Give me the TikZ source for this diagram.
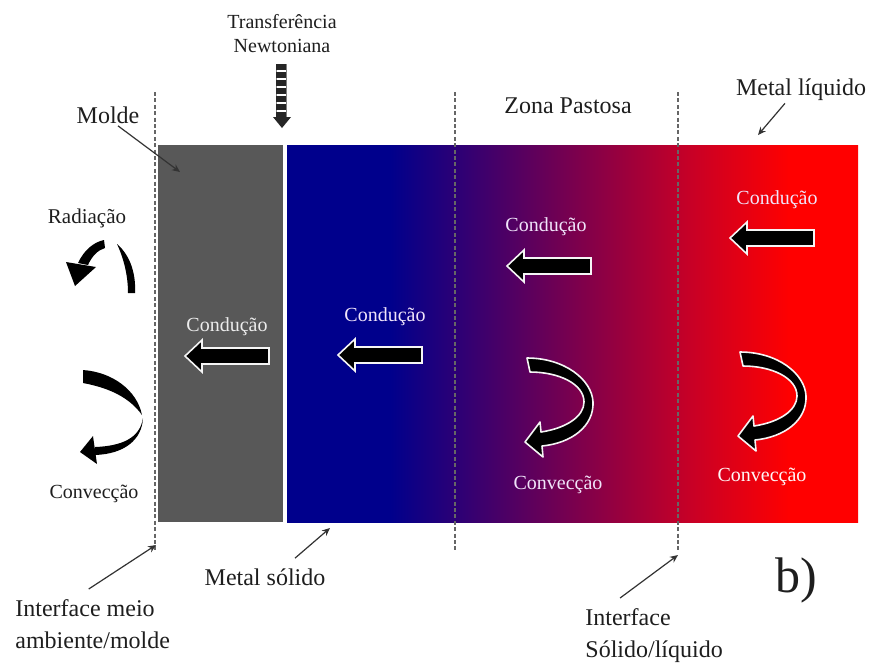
\documentclass[tikz,border=0pt]{standalone}
\usepackage{fontspec}
\setmainfont{Liberation Serif}
\usepackage{tikz}
\usetikzlibrary{calc,positioning,arrows.meta}

\definecolor{moldgray}{RGB}{88,88,88}
\definecolor{solidblue}{RGB}{0,0,140}
\definecolor{mushred}{RGB}{200,0,38}
\definecolor{liqred}{RGB}{255,0,0}
\definecolor{labeltxt}{RGB}{30,30,30}
\definecolor{intxt}{RGB}{240,228,250}
\pgfdeclarehorizontalshading{metalgrad}{100bp}{color(0bp)=(solidblue); color(34bp)=(solidblue);
  color(60.4bp)=(mushred); color(69.1bp)=(liqred); color(100bp)=(liqred)}

\begin{document}
\begin{tikzpicture}[x=0.5pt,y=-0.5pt,
  lbl/.style={font=\fontsize{12}{16}\selectfont, text=labeltxt, inner sep=1pt},
  sml/.style={font=\fontsize{10}{12}\selectfont, text=labeltxt, inner sep=1pt},
  inlbl/.style={sml, text=intxt},
  pointer/.style={-{Stealth[length=4pt,width=3.5pt]}, line width=0.6pt, black!80},
  zone/.style={line width=1.2pt, dash pattern=on 2pt off 1.2pt, black!60},
  cond/.pic={\draw[white!92!gray, line width=0.8pt, fill=black, line join=miter]
    (0,0) -- (17,-16) -- (17,-8) -- (84,-8) -- (84,8) -- (17,8) -- (17,16) -- cycle;},
  conv/.pic={\draw[white!92!gray, line width=0.8pt, fill=black, line join=round]
    (0,0) .. controls (38,0) and (65,22) .. (66,44)
    .. controls (67,68) and (45,85) .. (15,88)
    -- (16,99) -- (-2,84) -- (13,64) -- (14,74)
    .. controls (40,70) and (57,58) .. (57,44)
    .. controls (57,26) and (32,14) .. (3,14) -- cycle;}
]
\fill[white] (0,0) rectangle (870,666);

% regions
\fill[moldgray] (158,145) rectangle (283,522);
\shade[shading=metalgrad] (287,145) rectangle (858,522);

% interfaces
\draw[zone] (155,92) -- (155,550);
\draw[zone] (455,92) -- (455,550);
\draw[zone] (678,92) -- (678,550);

% conduction
\pic at (185,356) {cond};
\pic at (338,355) {cond};
\pic at (507,266) {cond};
\pic at (730,238) {cond};
\node[inlbl, text=white!85!gray] (cd1) at (227,327) {Condução};
\node[inlbl] (cd2) at (385,317) {Condução};
\node[inlbl] (cd3) at (546,227) {Condução};
\node[inlbl] (cd4) at (777,200) {Condução};

% convection
\pic at (527,358) {conv};
\pic at (740,352) {conv};
\node[inlbl] (cv1) at (558,485) {Convecção};
\node[inlbl, text=white!85!pink] (cv2) at (762,477) {Convecção};

% outside, radiation and convection
\fill[black] (117,244) .. controls (131,256) and (136,275) .. (135,293)
  -- (128,293) .. controls (128,276) and (124,259) .. (117,244) -- cycle;
\fill[black] (104,240) .. controls (94,242) and (84,250) .. (78,263)
  -- (88,265) .. controls (92,256) and (98,250) .. (105,248) -- cycle;
\fill[black] (66,262) -- (96,267) -- (75,286) -- cycle;
\fill[black] (83,370) .. controls (112,372) and (137,390) .. (142,415)
  .. controls (130,398) and (110,388) .. (83,383) -- cycle;
\fill[black] (143,418) .. controls (140,438) and (122,446) .. (95,447)
  -- (95,455) .. controls (124,454) and (142,440) .. (143,418) -- cycle;
\fill[black] (93,436) -- (80,452) -- (97,464) -- cycle;
\node[sml, font=\fontsize{10.5}{12}\selectfont] (rad) at (87,218) {Radiação};
\node[sml] (cvout) at (94,494) {Convecção};

% newtonian transfer
\node[sml, align=center, font=\fontsize{10}{12}\selectfont] (newt) at (282,34) {Transferência\\Newtoniana};
\draw[gray, line width=0.4pt] (276,64) rectangle (286,118);
\draw[black!85, line width=4.6pt, dash pattern=on 3pt off 1pt] (281,64) -- (281,118);
\fill[black!85] (273,117) -- (291,117) -- (282,128) -- cycle;

% labels
\node[lbl] (molde) at (108,115) {Molde};
\node[lbl] (zona) at (568,106) {Zona Pastosa};
\node[lbl] (mliq) at (801,90) {Metal líquido};
\node[lbl] (msol) at (265,577) {Metal sólido};
\node[lbl, align=left, anchor=north west] (ifm) at (13,597) {Interface meio\\ambiente/molde};
\node[lbl, align=left, anchor=north west] (isl) at (583,606) {Interface\\Sólido/líquido};
\node[lbl, font=\fontsize{25}{28}\selectfont] (fig) at (796,580) {b)};

\coordinate (moldeTip) at (180,172);
\coordinate (mliqTip) at (758,135);
\coordinate (msolTip) at (330,528);
\coordinate (ifmTip) at (156,545);
\coordinate (islTip) at (678,555);
\draw[pointer] ([xshift=5pt]molde.south) -- (moldeTip);
\draw[pointer] ([xshift=-8pt]mliq.south) -- (mliqTip);
\draw[pointer] ([xshift=15pt,yshift=4pt]msol.north) -- (msolTip);
\draw[pointer] ([xshift=-2pt,yshift=4pt]ifm.north) -- (ifmTip);
\draw[pointer] ([xshift=-17pt,yshift=4pt]isl.north) -- (islTip);
\end{tikzpicture}
\end{document}
